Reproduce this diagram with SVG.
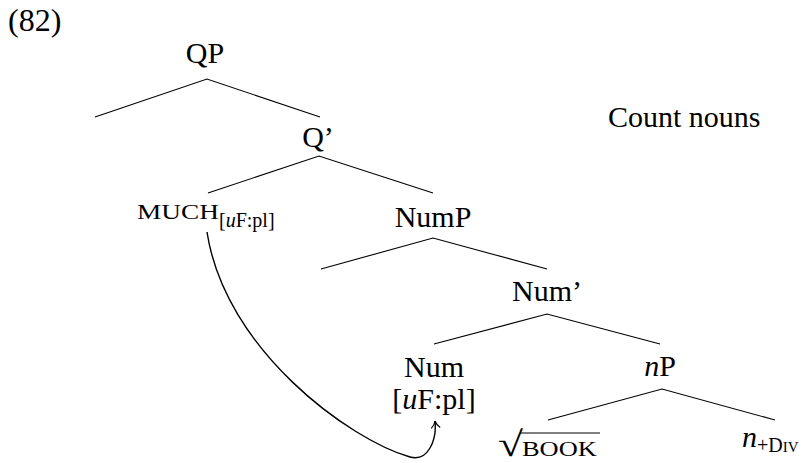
<svg xmlns="http://www.w3.org/2000/svg" width="806" height="463" viewBox="0 0 806 463">
<style>
text{font-family:"Liberation Serif","Times New Roman",serif;fill:#000}
.lab{font-size:30px;text-anchor:middle}
.sub{font-size:20px}
.edge{stroke:#000;stroke-width:1.1;fill:none}
</style>
<defs>
<marker id="ah" markerWidth="12" markerHeight="12" refX="9" refY="6" orient="auto" markerUnits="userSpaceOnUse">
<path d="M2,1.5 Q5,5 9,6 Q5,7 2,10.5" fill="none" stroke="#000" stroke-width="1.2"/>
</marker>
</defs>
<text x="8" y="31" style="font-size:32px">(82)</text>
<text x="608" y="127" style="font-size:30px">Count nouns</text>
<g id="connectors">
<path class="edge" d="M95,117 L207,79 L320,117"/>
<path class="edge" d="M208,193 L319,156 L433,193"/>
<path class="edge" d="M321,269 L433,238 L547,269"/>
<path class="edge" d="M434,344 L547,314 L660,344"/>
<path class="edge" d="M548,420 L662,389 L775,420"/>
<path d="M207,232 C225,350 350,440 410,457 C428,462 437,440 435,421" fill="none" stroke="#000" stroke-width="1.4" marker-end="url(#ah)"/>
</g>
<g id="QP"><text class="lab" x="205" y="63">QP</text></g>
<g id="Qbar"><text class="lab" x="318" y="147">Q’</text></g>
<g id="MUCH"><text transform="translate(137,219) scale(1.3,1)" style="font-size:21px">MUCH</text><text class="sub" x="219" y="227">[<tspan font-style="italic">u</tspan>F:pl]</text></g>
<g id="NumP"><text class="lab" x="433" y="227">NumP</text></g>
<g id="Numbar"><text class="lab" x="547" y="301">Num’</text></g>
<g id="Num"><text class="lab" x="434" y="377">Num</text><text class="lab" x="434" y="409">[<tspan font-style="italic">u</tspan>F:pl]</text></g>
<g id="nP"><text class="lab" x="660" y="376"><tspan font-style="italic">n</tspan>P</text></g>
<g id="BOOK"><text transform="translate(498,456) scale(1.3,1)" style="font-size:35px">√</text><line x1="520" y1="433" x2="600" y2="433" stroke="#000" stroke-width="1.2"/><text transform="translate(522,456) scale(1.2,1)" style="font-size:22px">BOOK</text></g>
<g id="nDiv"><text x="742" y="447" style="font-size:30px;font-style:italic">n</text><text x="757" y="452" class="sub">+D<tspan style="font-size:15px">IV</tspan></text></g>
</svg>
